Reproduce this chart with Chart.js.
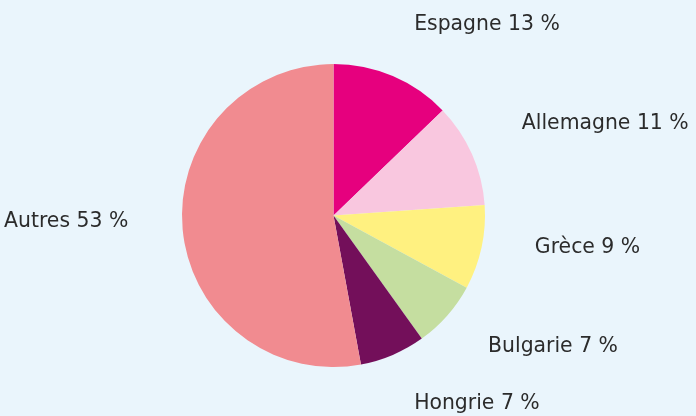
<!DOCTYPE html>
<html>
<head>
<meta charset="utf-8">
<script src="https://cdn.jsdelivr.net/npm/chart.js@4/dist/chart.umd.min.js"></script>
<style>
  html, body { margin: 0; padding: 0; background: #EAF5FC; }
  #wrap { width: 696px; height: 416px; }
</style>
</head>
<body>
<div id="wrap"><canvas id="c" width="696" height="416"></canvas></div>
<script>
const categories = ['Espagne', 'Allemagne', 'Grèce', 'Bulgarie', 'Hongrie', 'Autres'];
const shares = [12.8, 11.1, 9.0, 7.2, 7.0, 52.9];
const colors = ['#E6007E', '#F9C7DF', '#FFF180', '#C5DEA0', '#730F5A', '#F18B90'];

const outsideLabels = {
  id: 'outsideLabels',
  afterDatasetsDraw(chart) {
    const ctx = chart.ctx;
    const meta = chart.getDatasetMeta(0);
    const fontSize = 20.4;
    ctx.save();
    ctx.font = fontSize + 'px "DejaVu Sans", Verdana, sans-serif';
    ctx.fillStyle = '#2b2b2b';
    ctx.textBaseline = 'middle';
    meta.data.forEach((arc, i) => {
      const p = arc.getProps(['x', 'y', 'startAngle', 'endAngle', 'outerRadius'], true);
      const mid = (p.startAngle + p.endAngle) / 2;
      const dx = Math.cos(mid), dy = Math.sin(mid);
      const r = p.outerRadius * 1.36;
      const px = p.x + r * dx;
      const py = p.y + r * dy - 14 * (1 - Math.abs(dy));
      const text = categories[i] + ' ' + Math.round(shares[i]) + ' %';
      ctx.textAlign = dx >= 0 ? 'left' : 'right';
      ctx.fillText(text, px, py);
    });
    ctx.restore();
  }
};

new Chart(document.getElementById('c'), {
  type: 'pie',
  data: {
    labels: categories,
    datasets: [{
      data: shares,
      backgroundColor: colors,
      borderWidth: 0
    }]
  },
  options: {
    responsive: false,
    animation: false,
    layout: { padding: { left: 182, right: 211, top: 64, bottom: 49 } },
    plugins: {
      legend: { display: false },
      tooltip: { enabled: false }
    }
  },
  plugins: [outsideLabels]
});
</script>
</body>
</html>
